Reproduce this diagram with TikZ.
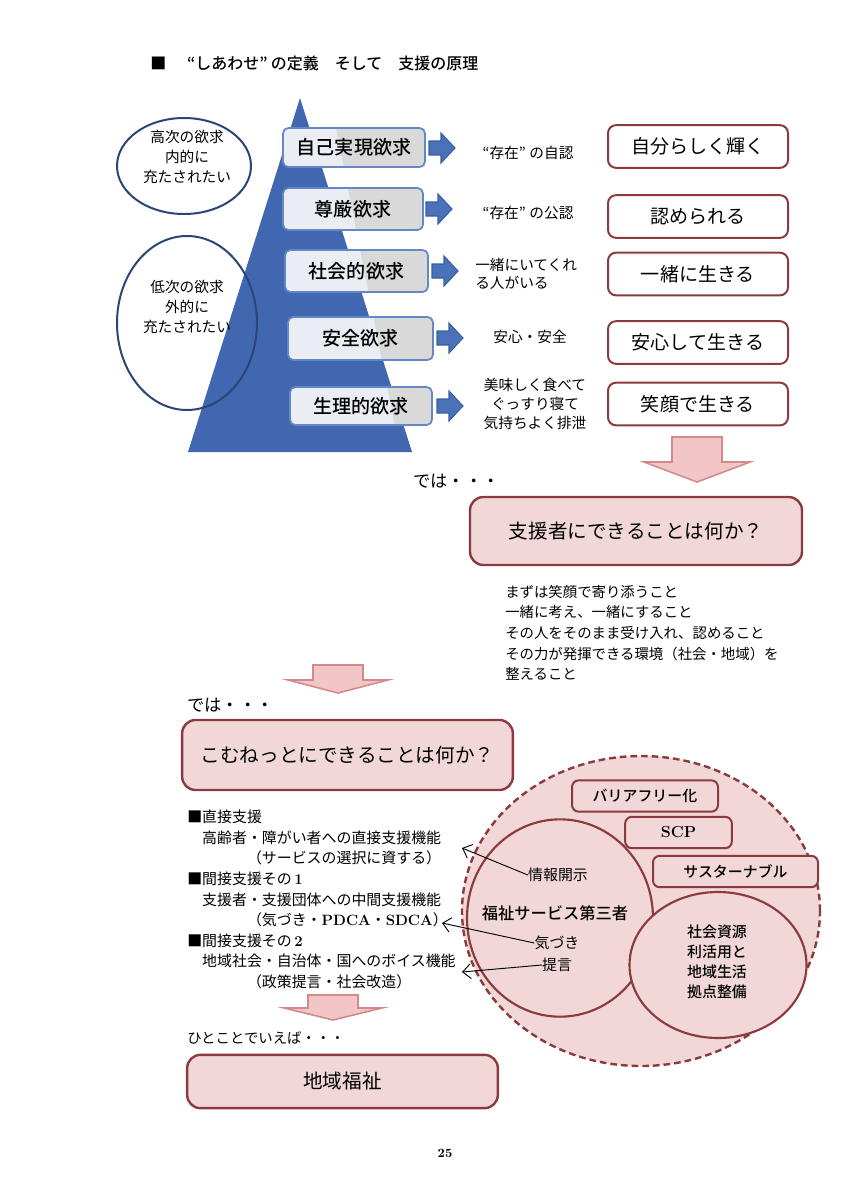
\documentclass[tikz,border=0pt]{standalone}
\usepackage{fontspec}
\newfontfamily\jp{Noto Sans CJK JP}
\newfontfamily\jpmid{Noto Sans CJK JP Medium}
\usetikzlibrary{arrows.meta,calc,positioning,shapes.geometric}
\definecolor{pyrblue}{HTML}{4167B0}
\definecolor{neededge}{HTML}{6488C6}
\definecolor{needgray}{HTML}{D9D9D9}
\definecolor{needlight}{HTML}{EAEDF4}
\definecolor{goblue}{HTML}{4A72B8}
\definecolor{goedge}{HTML}{3A5F9F}
\definecolor{navy}{HTML}{2B4674}
\definecolor{darkred}{HTML}{8B3A3E}
\definecolor{pinkfill}{HTML}{F1D7D7}
\definecolor{arrowpink}{HTML}{F2C6C7}
\definecolor{arrowedge}{HTML}{D48A8C}
\tikzset{>=Latex,
  titletext/.style={inner sep=0,font=\jpmid\fontsize{12}{14}\selectfont},
  needbox/.style={draw=neededge,line width=1.3pt,rounded corners=4pt,fill=needgray,inner sep=0,
    font=\jpmid\fontsize{14.3}{16}\selectfont,
    path picture={\fill[needlight] (litetop)--(litebot)--++(-250,0)--++(0,-354)--cycle;}},
  bluearrow/.style={fill=goblue,draw=goedge,line width=.8pt},
  navyring/.style={ellipse,draw=navy,line width=1.5pt,inner sep=0},
  ringtext/.style={align=center,inner sep=0,font=\jp\fontsize{11}{15}\selectfont},
  midtext/.style={inner sep=0,font=\jp\fontsize{11}{14}\selectfont},
  lifebox/.style={draw=darkred,line width=1.5pt,rounded corners=6pt,fill=white,minimum width=135pt,
    minimum height=32pt,font=\jp\fontsize{14.3}{16}\selectfont},
  askbox/.style={draw=darkred,line width=1.8pt,rounded corners=10pt,fill=pinkfill,
    font=\jp\fontsize{14.7}{17}\selectfont},
  leadtext/.style={inner sep=0,font=\jp\fontsize{13}{15}\selectfont},
  plaintext/.style={inner sep=0,align=left,font=\jp\fontsize{10.8}{15.4}\selectfont},
  pinkarrow/.style={fill=arrowpink,draw=arrowedge,line width=1.2pt},
  ringzone/.style={ellipse,draw=darkred,fill=pinkfill,line width=1.8pt,dash pattern=on 5pt off 3pt,inner sep=0},
  subring/.style={ellipse,draw=darkred,fill=pinkfill,line width=1.6pt,inner sep=0},
  tagbox/.style={draw=darkred,fill=pinkfill,line width=1.5pt,rounded corners=5pt,minimum height=23.5pt,
    font=\jpmid\fontsize{11.2}{14}\selectfont},
  circtext/.style={inner sep=0,align=center,font=\jp\fontsize{11.2}{15}\selectfont},
  pointer/.style={-{Straight Barb[length=6pt,width=11pt]},line width=.7pt},
  pics/pinkdown/.style n args={3}{code={\draw[pinkarrow] (-25,0)--(25,0)--(25,#1)--(#3,#1)--(0,#2)--(-#3,#1)--(-25,#1)--cycle;}},
  pics/bluego/.style={code={\draw[bluearrow] (0,-7)--(12,-7)--(12,-15)--(26,0)--(12,15)--(12,7)--(0,7)--cycle;}}}
\begin{document}
\begin{tikzpicture}[x=.75pt,y=-.75pt]
\useasboundingbox (0,0) rectangle (848,1200);
\node[titletext,anchor=west] (title) at (150,63) {■\hspace{1.3em}“しあわせ”\hspace{.2em}の定義　そして　支援の原理};
\coordinate (apex) at (300,98);\coordinate (baseR) at (412,452);\coordinate (baseL) at (188,452);
\coordinate (litetop) at (330,98);\coordinate (litebot) at (400,452);
\fill[pyrblue] (apex)--(baseR)--(baseL)--cycle;
\foreach \i/\x/\y/\w/\h/\lab in {1/354/147.5/142/39/自己実現欲求,2/353/209/140/42/尊厳欲求,3/356.5/271/143/42/社会的欲求,4/360.5/338.5/145/43/安全欲求,5/361/406/142/38/生理的欲求}{
  \node[needbox,minimum width=\w*.75pt,minimum height=\h*.75pt] (need\i) at (\x,\y) {\lab};}
\foreach \i/\x/\y in {1/429/148,2/426/209,3/432/271,4/437/338,5/437/406}{\pic (go\i) at (\x,\y) {bluego};}
\node[navyring,minimum width=100.5pt,minimum height=72pt] (highring) at (184,166) {};
\node[navyring,minimum width=105pt,minimum height=130.5pt] (lowring) at (187,323) {};
\node[ringtext] (hightext) at (187,157) {高次の欲求\\内的に\\充たされたい};
\node[ringtext] (lowtext) at (187,307) {低次の欲求\\外的に\\充たされたい};
\node[midtext] (selfown) at (528,153) {“存在”\hspace{.25em}の自認};
\node[midtext] (selfpub) at (528,213) {“存在”\hspace{.25em}の公認};
\node[midtext,align=left,anchor=west] (together) at (475,274) {一緒にいてくれ\\る人がいる};
\node[midtext] (safe) at (530,337) {安心・安全};
\node[midtext,align=center,font=\jp\fontsize{11}{14.3}\selectfont] (body) at (535,404) {美味しく食べて\\ぐっすり寝て\\気持ちよく排泄};
\foreach \i/\y/\lab in {1/146.5/自分らしく輝く,2/216.5/認められる,3/274/一緒に生きる,4/342.5/安心して生きる,5/404/笑顔で生きる}{
  \node[lifebox] (life\i) at (698,\y) {\lab};}
\pic (down1) at (697,437) {pinkdown={25}{45}{53}};
\node[leadtext,anchor=west] (then1) at (413,481) {では・・・};
\node[askbox,minimum width=249pt,minimum height=51pt] (askhelper) at (636,531) {支援者にできることは何か？};
\node[plaintext,anchor=north west] (helperlist) at (505,585) {まずは笑顔で寄り添うこと\\一緒に考え、一緒にすること\\その人をそのまま受け入れ、認めること\\その力が発揮できる環境（社会・地域）を\\整えること};
\pic (down2) at (338,665) {pinkdown={15}{28}{50}};
\node[leadtext,anchor=west] (then2) at (187,705) {では・・・};
\node[askbox,minimum width=248pt,minimum height=52.5pt] (asknet) at (347.5,755) {こむねっとにできることは何か？};
\node[plaintext,anchor=north west,font=\jp\fontsize{11.2}{15.4}\selectfont] (netlist) at (187,810) {■直接支援\\
　高齢者・障がい者への直接支援機能\\
　　　　（サービスの選択に資する）\\
■間接支援その\,{\rmfamily\bfseries 1}\\
　支援者・支援団体への中間支援機能\\
　　　　（気づき・{\rmfamily\bfseries PDCA}・{\rmfamily\bfseries SDCA}）\\
■間接支援その\,{\rmfamily\bfseries 2}\\
　地域社会・自治体・国へのボイス機能\\
　　　　（政策提言・社会改造）};
\pic (down3) at (333,995) {pinkdown={13}{25}{49}};
\node[plaintext,anchor=west] (oneword) at (187,1038) {ひとことでいえば・・・};
\node[askbox,minimum width=233pt,minimum height=40pt] (community) at (342.5,1081.5) {地域福祉};
\node[ringzone,minimum width=268.5pt,minimum height=232.5pt] (zone) at (641,911) {};
\node[tagbox,minimum width=109.5pt] (barrier) at (645,796) {バリアフリー化};
\node[tagbox,minimum width=80pt,font=\rmfamily\bfseries\fontsize{12}{14}\selectfont] (scp) at (678.5,832.5) {SCP};
\node[tagbox,minimum width=123.75pt] (sustain) at (735.5,871.5) {サスターナブル};
\node[subring,minimum width=139.5pt,minimum height=148pt] (thirdring) at (560,918) {};
\node[subring,minimum width=132.75pt,minimum height=109.5pt] (resring) at (718,965) {};
\node[circtext] (info) at (558,875) {情報開示};
\node[circtext,font=\jpmid\fontsize{12.2}{15}\selectfont] (third) at (555,913) {福祉サービス第三者};
\node[circtext] (aware) at (557,943) {気づき};
\node[circtext] (advice) at (557,965) {提言};
\node[circtext,font=\jpmid\fontsize{11.2}{15}\selectfont] (resource) at (717,962) {社会資源\\利活用と\\地域生活\\拠点整備};
\coordinate (tipA) at (462,848);\coordinate (tipB) at (442,923);\coordinate (tipC) at (462,972);
\draw[pointer] (info.west)--(tipA);\draw[pointer] (aware.west)--(tipB);\draw[pointer] (advice.west)--(tipC);
\node[inner sep=0,font=\bfseries\fontsize{9.5}{11}\selectfont] (pageno) at (445,1153) {25};
\end{tikzpicture}
\end{document}
